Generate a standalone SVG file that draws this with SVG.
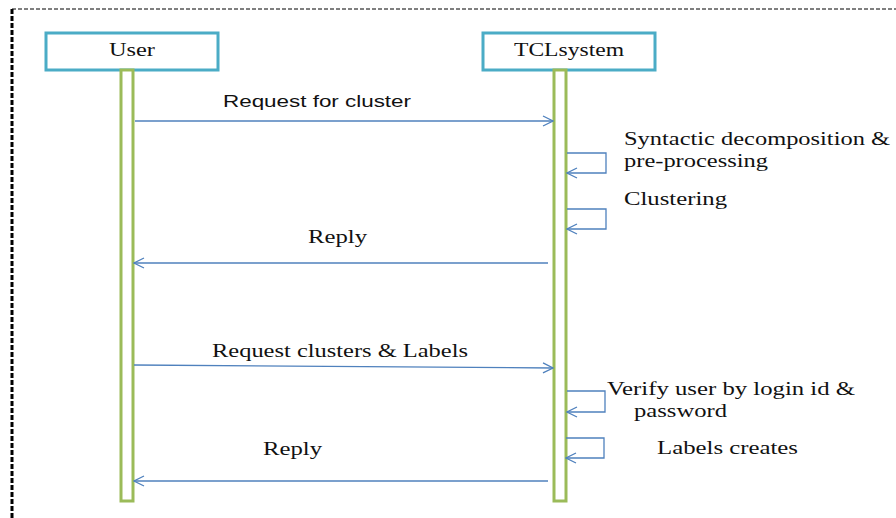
<svg xmlns="http://www.w3.org/2000/svg" width="896" height="518" viewBox="0 0 896 518">
<style>
.frame{fill:none;stroke:#000;stroke-width:1;stroke-dasharray:4 2}
.frameL{fill:none;stroke:#000;stroke-width:3;stroke-dasharray:5 2}
.head{fill:#fff;stroke:#4BACC6;stroke-width:3}
.life{fill:#fff;stroke:#9BBB59;stroke-width:3}
.msg{fill:none;stroke:#4F81BD;stroke-width:1.3;marker-end:url(#arr)}
.serif{font-family:"Liberation Serif","Times New Roman",serif;font-size:18px;fill:#111}
.sans{font-family:"Liberation Sans",Arial,sans-serif;font-size:16px;fill:#111}
</style>
<defs>
<marker id="arr" viewBox="0 0 12 12" refX="11" refY="6" markerWidth="12" markerHeight="12" markerUnits="userSpaceOnUse" orient="auto">
<path d="M1,1 L11,6 L1,11" fill="none" stroke="#4F81BD" stroke-width="1.3"/>
</marker>
</defs>
<rect width="896" height="518" fill="#fff"/>
<line class="frame" x1="12" y1="9" x2="896" y2="9"/>
<line class="frameL" x1="12" y1="9" x2="12" y2="518"/>
<g id="user">
<rect class="head" x="46" y="33" width="172" height="37"/>
<text class="serif" x="109" y="56" textLength="46" lengthAdjust="spacingAndGlyphs">User</text>
<rect class="life" x="121" y="70" width="12" height="431"/>
</g>
<g id="tclsystem">
<rect class="head" x="483" y="33" width="172" height="37"/>
<text class="serif" x="514" y="56" textLength="110" lengthAdjust="spacingAndGlyphs">TCLsystem</text>
<rect class="life" x="554" y="70" width="12" height="431"/>
</g>
<g id="connectors">
<line class="msg" x1="135" y1="121" x2="553" y2="121"/>
<path class="msg" d="M567,153 H606 V173 H567"/>
<path class="msg" d="M567,209 H606 V229 H567"/>
<line class="msg" x1="548" y1="263" x2="134" y2="263"/>
<line class="msg" x1="134" y1="365" x2="553" y2="368"/>
<path class="msg" d="M567,391 H605 V412 H567"/>
<path class="msg" d="M566,438 H604 V458 H566"/>
<line class="msg" x1="548" y1="481" x2="134" y2="481"/>
</g>
<g id="labels">
<text class="sans" x="223" y="107" textLength="188" lengthAdjust="spacingAndGlyphs">Request for cluster</text>
<text class="serif" x="624" y="145" textLength="266" lengthAdjust="spacingAndGlyphs">Syntactic decomposition &amp;</text>
<text class="serif" x="624" y="167" textLength="144" lengthAdjust="spacingAndGlyphs">pre-processing</text>
<text class="serif" x="624" y="205" textLength="103" lengthAdjust="spacingAndGlyphs">Clustering</text>
<text class="serif" x="308" y="243" textLength="59" lengthAdjust="spacingAndGlyphs">Reply</text>
<text class="serif" x="212" y="357" textLength="256" lengthAdjust="spacingAndGlyphs">Request clusters &amp; Labels</text>
<text class="serif" x="607" y="395" textLength="248" lengthAdjust="spacingAndGlyphs">Verify user by login id &amp;</text>
<text class="serif" x="634" y="417" textLength="93" lengthAdjust="spacingAndGlyphs">password</text>
<text class="serif" x="657" y="454" textLength="141" lengthAdjust="spacingAndGlyphs">Labels creates</text>
<text class="serif" x="263" y="455" textLength="59" lengthAdjust="spacingAndGlyphs">Reply</text>
</g>
</svg>
